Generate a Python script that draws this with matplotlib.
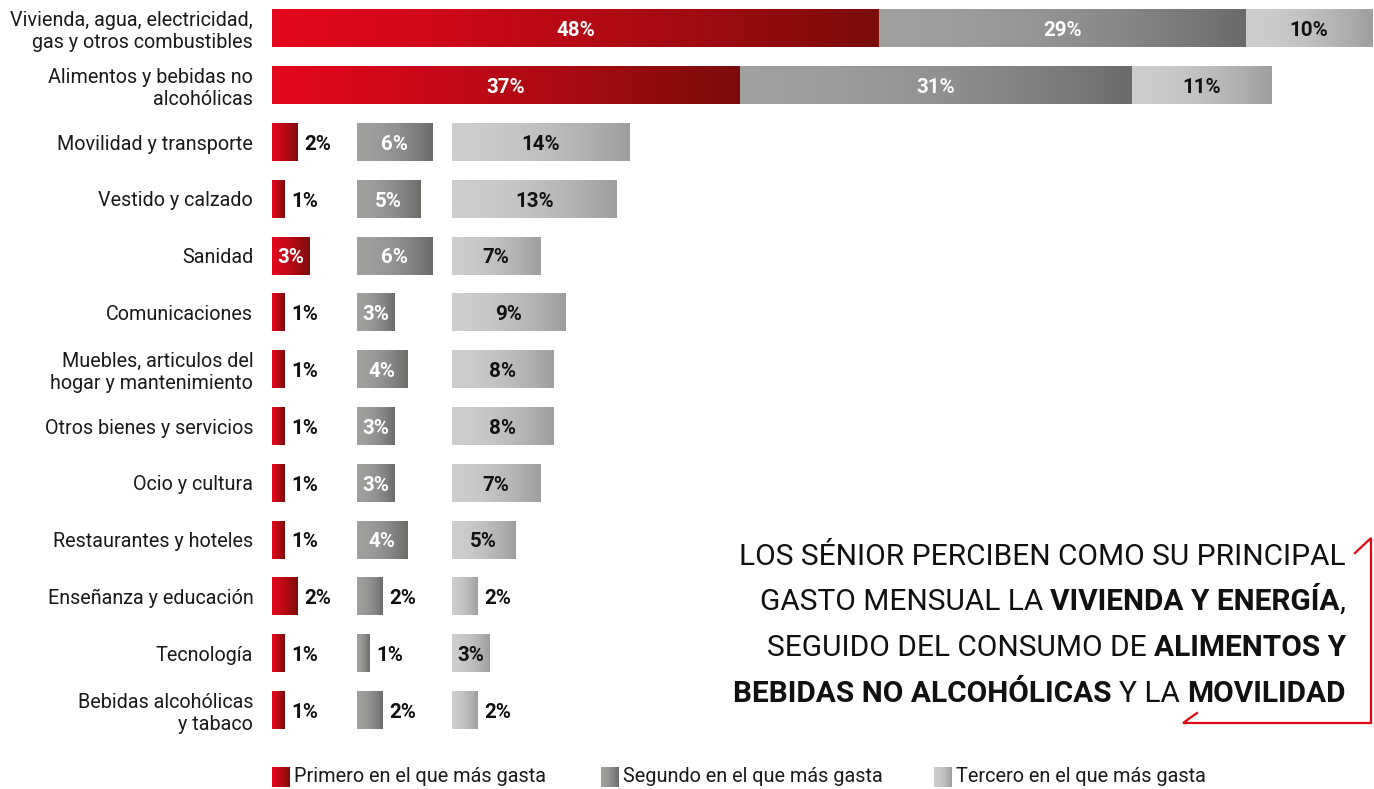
import numpy as np
import matplotlib
matplotlib.use("Agg")
import matplotlib.pyplot as plt
from matplotlib.colors import LinearSegmentedColormap

plt.rcParams['font.family'] = ['Roboto', 'DejaVu Sans']

categorias = ["Vivienda, agua, electricidad,\ngas y otros combustibles",
              "Alimentos y bebidas no\nalcohólicas",
              "Movilidad y transporte", "Vestido y calzado", "Sanidad",
              "Comunicaciones", "Muebles, articulos del\nhogar y mantenimiento",
              "Otros bienes y servicios", "Ocio y cultura",
              "Restaurantes y hoteles", "Enseñanza y educación", "Tecnología",
              "Bebidas alcohólicas\ny tabaco"]
primero = [48, 37, 2, 1, 3, 1, 1, 1, 1, 1, 2, 1, 1]
segundo = [29, 31, 6, 5, 6, 3, 4, 3, 3, 4, 2, 1, 2]
tercero = [10, 11, 14, 13, 7, 9, 8, 8, 7, 5, 2, 3, 2]
n_apiladas = 2   # las dos primeras filas van apiladas
columnas = [0, 6.72, 14.24]   # inicio de cada columna en el resto de filas

series = [primero, segundo, tercero]
leyenda = ["Primero en el que más gasta", "Segundo en el que más gasta",
           "Tercero en el que más gasta"]
grads = [("#e4071e", "#7c0d0b", 1.2), ("#a0a09f", "#6b6b69", 1.8),
         ("#cdcdcd", "#9e9e9e", 1.8)]
txt_dentro = ["white", "white", "#111111"]

W, H = 1374, 789
fig = plt.figure(figsize=(W / 100, H / 100), dpi=100)
ax = fig.add_axes([272 / W, (H - 738.4) / H, 1100 / W, 738.4 / H])

alto = 0.67


def barra_grad(ax, y, left, width, c0, c1, p):
    bar = ax.barh(y, width, left=left, height=alto, color='none',
                  edgecolor='none')[0]
    cmap = LinearSegmentedColormap.from_list('g', [c0, c1])
    t = np.linspace(0, 1, 256) ** p
    im = ax.imshow(t[None, :], cmap=cmap, vmin=0, vmax=1, aspect='auto',
                   extent=(left, left + width, y + alto / 2, y - alto / 2),
                   interpolation='bilinear', zorder=2)
    im.set_clip_path(bar)


for i in range(len(categorias)):
    acum = 0
    for k, serie in enumerate(series):
        v = serie[i]
        left = acum if i < n_apiladas else columnas[k]
        c0, c1, p = grads[k]
        barra_grad(ax, i, left, v, c0, c1, p)
        lbl = f"{v}%"
        if i < n_apiladas or v >= 3:
            ax.text(left + v / 2, i + 0.04, lbl, ha='center', va='center',
                    color=txt_dentro[k], fontsize=14.8, fontweight='bold', zorder=3)
        else:
            ax.text(left + v + 0.55, i + 0.04, lbl, ha='left', va='center',
                    color='#111111', fontsize=14.8, fontweight='bold', zorder=3)
        acum += v

ax.set_xlim(0, 87)
ax.set_ylim(len(categorias) - 0.5, -0.5)
ax.set_yticks(range(len(categorias)))
ax.set_yticklabels(categorias, fontsize=14.2, color='#1a1a1a')
ax.tick_params(axis='y', length=0, pad=13.5)
ax.set_xticks([])
for s in ax.spines.values():
    s.set_visible(False)

# capa superior para leyenda, texto y corchete
ov = fig.add_axes([0, 0, 1, 1])
ov.patch.set_alpha(0)
ov.axis('off')

leg_x = [272, 601, 934]
for k in range(3):
    c0, c1, p = grads[k]
    cmap = LinearSegmentedColormap.from_list('g', [c0, c1])
    t = np.linspace(0, 1, 64) ** p
    ov.imshow(t[None, :], cmap=cmap, vmin=0, vmax=1, aspect='auto',
              extent=(leg_x[k], leg_x[k] + 18, 787, 767), interpolation='bilinear')
    ov.text(leg_x[k] + 22, 777, leyenda[k], ha='left', va='center',
            fontsize=14.3, color='#1a1a1a')

ov.plot([1355, 1371, 1371, 1183, 1197], [553, 538, 723, 723, 713],
        color='#e30613', lw=1.6, solid_joinstyle='miter')

lineas = [
    [("LOS SÉNIOR PERCIBEN COMO SU PRINCIPAL", False, False)],
    [("GASTO MENSUAL LA", False, False), ("VIVIENDA Y ENERGÍA", True, True),
     (",", False, False)],
    [("SEGUIDO DEL CONSUMO DE", False, False), ("ALIMENTOS Y", True, True)],
    [("BEBIDAS NO ALCOHÓLICAS", True, False), ("Y LA", False, True),
     ("MOVILIDAD", True, True)],
]
lin_y = [557, 602, 648, 694]
x_der = 1346
fs = 21.5
r = fig.canvas.get_renderer()
esp = ov.text(0, 0, "A A", fontsize=fs)
esp2 = ov.text(0, 0, "AA", fontsize=fs)
gap = (esp.get_window_extent(r).width - esp2.get_window_extent(r).width)
esp.remove()
esp2.remove()

ov.set_xlim(0, W)
ov.set_ylim(H, 0)

for y, partes in zip(lin_y, lineas):
    objs = []
    total = 0
    for txt, neg, sp in partes:
        t = ov.text(0, y, txt, ha='left', va='center', fontsize=fs,
                    fontweight='bold' if neg else 'normal', color='#111111')
        w = t.get_window_extent(r).width
        objs.append((t, w, sp))
        total += w + (gap if sp else 0)
    x = x_der - total
    for t, w, sp in objs:
        if sp:
            x += gap
        t.set_x(x)
        x += w

fig.savefig("out.png", dpi=100)
